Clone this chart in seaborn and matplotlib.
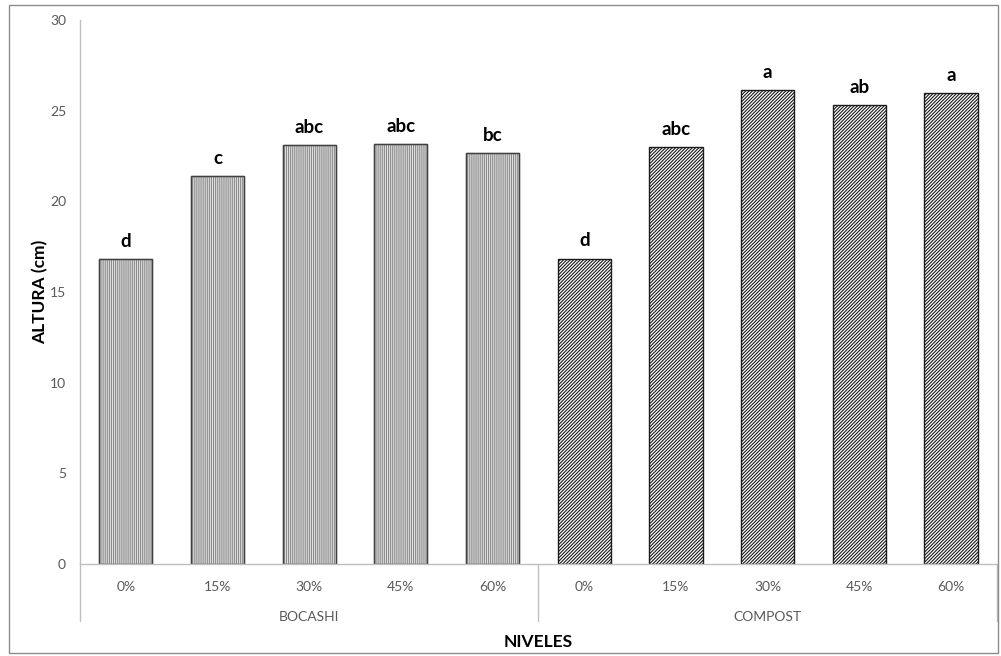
import matplotlib
matplotlib.use("Agg")
import matplotlib.pyplot as plt
import matplotlib.transforms as mtransforms
from matplotlib.patches import Rectangle
import pandas as pd
import seaborn as sns

# data
groups = ["BOCASHI"] * 5 + ["COMPOST"] * 5
niveles = ["0%", "15%", "30%", "45%", "60%"] * 2
altura = [16.8, 21.4, 23.1, 23.15, 22.65, 16.85, 23.0, 26.15, 25.3, 25.95]
letras = ["d", "c", "abc", "abc", "bc", "d", "abc", "a", "ab", "a"]

df = pd.DataFrame({"grupo": groups, "nivel": niveles, "altura": altura})
df["key"] = [f"{g}_{n}" for g, n in zip(groups, niveles)]

sns.set_style("white")
plt.rcParams["font.family"] = ["Lato", "DejaVu Sans"]
plt.rcParams["hatch.linewidth"] = 0.8

fig = plt.figure(figsize=(10.01, 6.56), dpi=100)
ax = fig.add_axes([0.0799, 0.140, 0.916, 0.8295])

sns.barplot(data=df, x="key", y="altura", order=list(df["key"]), color="white",
            width=0.58, ax=ax, errorbar=None)

for i, bar in enumerate(ax.patches):
    if groups[i] == "BOCASHI":
        bar.set_facecolor("#e4e4e4")
        bar.set_edgecolor("#8a8a8a")
        bar.set_hatch("||||||||")
    else:
        bar.set_facecolor("white")
        bar.set_edgecolor("#1a1a1a")
        bar.set_hatch("//////////")
    bar.set_linewidth(1.0)
    ax.text(bar.get_x() + bar.get_width() / 2, bar.get_height() + 0.5, letras[i],
            ha="center", va="bottom", fontsize=13.5, fontweight="bold", color="black")

# darker outline for the bocashi bars, drawn on top of the light hatch
for i, bar in enumerate(ax.patches[:5]):
    ax.add_patch(Rectangle(bar.get_xy(), bar.get_width(), bar.get_height(),
                           fill=False, edgecolor="#404040", lw=1.0))

ax.set_ylim(0, 30)
ax.set_xlim(-0.5, 9.5)
ax.set_yticks([0, 5, 10, 15, 20, 25, 30])
ax.tick_params(axis="y", labelsize=10, colors="#595959", length=0, pad=10)
ax.set_xticks(range(10))
ax.set_xticklabels(niveles)
ax.tick_params(axis="x", labelsize=10, colors="#595959", length=0, pad=12)

for s in ["top", "right"]:
    ax.spines[s].set_visible(False)
for s in ["left", "bottom"]:
    ax.spines[s].set_color("#bfbfbf")
    ax.spines[s].set_linewidth(1.0)

# group labels and dividers below the axis
trans = mtransforms.blended_transform_factory(ax.transData, ax.transAxes)
ax.text(2, -0.097, "BOCASHI", transform=trans, ha="center", va="center",
        fontsize=10, color="#595959")
ax.text(7, -0.097, "COMPOST", transform=trans, ha="center", va="center",
        fontsize=10, color="#595959")
for xv in [-0.5, 4.5, 9.5]:
    ax.plot([xv, xv], [0, -0.105], transform=trans, color="#bfbfbf",
            lw=1.0, clip_on=False)

ax.set_xlabel("NIVELES", fontsize=12.5, fontweight="bold", color="black", labelpad=30)
ax.set_ylabel("ALTURA (cm)", fontsize=12.5, fontweight="bold", color="black", labelpad=1)

fig.patches.append(Rectangle((0.009, 0.005), 0.988, 0.987, transform=fig.transFigure,
                             fill=False, edgecolor="#8c8c8c", lw=1.0))

fig.savefig("out.png", dpi=100)
plt.close(fig)
